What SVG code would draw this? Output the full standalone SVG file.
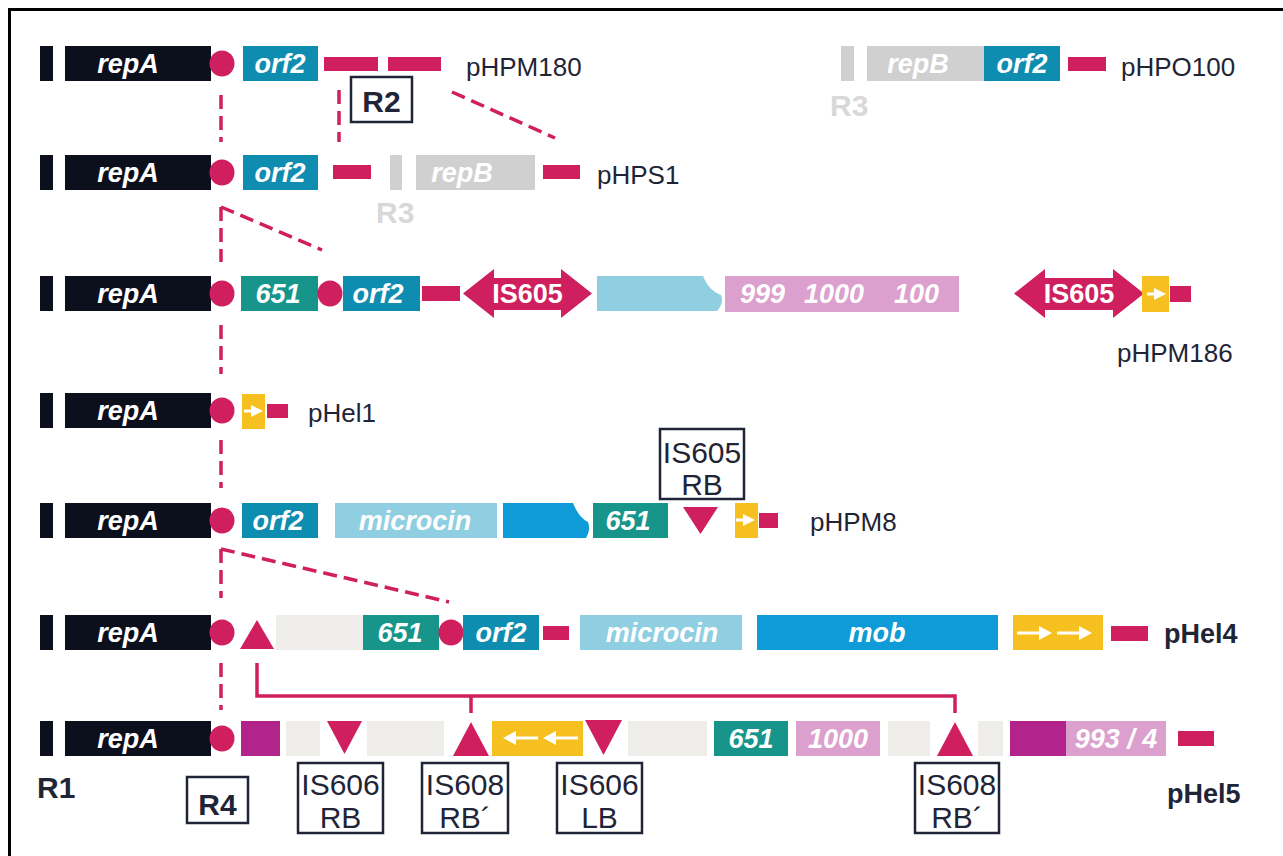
<svg xmlns="http://www.w3.org/2000/svg" xmlns:xlink="http://www.w3.org/1999/xlink" width="1283" height="856" viewBox="0 0 1283 856">
<style>
.blk{fill:#0c101d}
.teal{fill:#0f8db0}
.grn{fill:#17958a}
.red{fill:#cf1f5e}
.cyan{fill:#8fcfe1}
.blue{fill:#0f9bd7}
.pink{fill:#dba0cd}
.mag{fill:#b3238c}
.yel{fill:#f5c020}
.pale{fill:#efedea}
.grey{fill:#d0d0d0}
.gl{font-family:"Liberation Sans",Arial,sans-serif;font-style:italic;font-weight:bold;font-size:27px;fill:#fff;text-anchor:middle}
.gs{font-family:"Liberation Sans",Arial,sans-serif;font-style:italic;font-weight:bold;font-size:27px;fill:#fff}
.isl{font-family:"Liberation Sans",Arial,sans-serif;font-weight:bold;font-size:27px;fill:#fff;text-anchor:middle}
.lab{font-family:"Liberation Sans",Arial,sans-serif;font-size:26px;fill:#1f2536}
.lbb{font-family:"Liberation Sans",Arial,sans-serif;font-size:27px;font-weight:bold;fill:#1f2536}
.rl{font-family:"Liberation Sans",Arial,sans-serif;font-size:30px;font-weight:bold;fill:#1f2536}
.r3{font-family:"Liberation Sans",Arial,sans-serif;font-size:30px;font-weight:bold;fill:#d8d8d8}
.bt{font-family:"Liberation Sans",Arial,sans-serif;font-size:30px;fill:#1f2536;text-anchor:middle}
.box{fill:#fff;stroke:#1f2536;stroke-width:2.5}
.dash{fill:none;stroke:#cf1f5e;stroke-width:3.5;stroke-dasharray:14 7}
.conn{fill:none;stroke:#cf1f5e;stroke-width:3.5}
.wt{fill:#fff}
.ws{stroke:#fff;stroke-width:3;fill:none}
</style>
<defs>
<g id="wa"><line class="ws" x1="-10" y1="0" x2="-2" y2="0"/><polygon class="wt" points="-3,-6 -3,6 9,0"/></g>
<g id="ra"><line class="ws" x1="0" y1="0" x2="24" y2="0"/><polygon class="wt" points="22,-7 22,7 35,0"/></g>
<g id="la"><line class="ws" x1="11" y1="0" x2="35" y2="0"/><polygon class="wt" points="13,-7 13,7 0,0"/></g>
<ellipse id="dot" class="red" cx="0" cy="0" rx="12.5" ry="13"/>
</defs>

<path d="M9.5,870 V9.5 H1300" fill="none" stroke="#000" stroke-width="3"/>

<g id="connectors">
<path class="dash" d="M221,95 V142"/>
<path class="dash" d="M339,90 V142"/>
<path class="dash" d="M452,92 L555,138"/>
<path class="dash" d="M221,207 V262"/>
<path class="dash" d="M221,207 L322,250"/>
<path class="dash" d="M221,325 V374"/>
<path class="dash" d="M221,440 V488"/>
<path class="dash" d="M221,549 V598"/>
<path class="dash" d="M221,549 L449,602"/>
<path class="dash" d="M221,663 V710"/>
<path class="conn" d="M257,663 V696 H955 V713"/>
<path class="conn" d="M471,696 V713"/>
</g>

<g id="pHPM180">
<rect class="blk" x="40" y="46" width="13" height="35"/>
<rect class="blk" x="65" y="46" width="146" height="35"/>
<text class="gl" x="128" y="73">repA</text>
<use href="#dot" x="222" y="63.5"/>
<rect class="teal" x="243" y="46" width="75" height="35"/>
<text class="gl" x="280" y="73">orf2</text>
<rect class="red" x="324" y="57" width="54" height="14"/>
<rect class="red" x="388" y="57" width="53" height="14"/>
<text class="lab" x="466" y="76">pHPM180</text>
</g>
<g id="R2">
<rect class="box" x="351" y="77" width="61" height="45"/>
<text class="rl" x="381.5" y="112" text-anchor="middle">R2</text>
</g>

<g id="pHPO100">
<rect class="grey" x="841" y="46" width="13" height="35"/>
<rect class="grey" x="867" y="46" width="117" height="35"/>
<text class="gl" x="918" y="73">repB</text>
<rect class="teal" x="984" y="46" width="76" height="35"/>
<text class="gl" x="1022" y="73">orf2</text>
<rect class="red" x="1068" y="57" width="38" height="14"/>
<text class="lab" x="1121" y="76">pHPO100</text>
<text class="r3" x="830" y="116">R3</text>
</g>

<g id="pHPS1">
<rect class="blk" x="40" y="155" width="13" height="35"/>
<rect class="blk" x="65" y="155" width="146" height="35"/>
<text class="gl" x="128" y="182">repA</text>
<use href="#dot" x="222" y="172.5"/>
<rect class="teal" x="243" y="155" width="75" height="35"/>
<text class="gl" x="280" y="182">orf2</text>
<rect class="red" x="333" y="165" width="38" height="14"/>
<rect class="grey" x="390" y="155" width="12" height="35"/>
<rect class="grey" x="416" y="155" width="119" height="35"/>
<text class="gl" x="462" y="182">repB</text>
<rect class="red" x="543" y="165" width="37" height="14"/>
<text class="lab" x="597" y="184">pHPS1</text>
<text class="r3" x="376" y="223">R3</text>
</g>

<g id="pHPM186">
<rect class="blk" x="40" y="276" width="13" height="35"/>
<rect class="blk" x="65" y="276" width="146" height="35"/>
<text class="gl" x="128" y="303">repA</text>
<use href="#dot" x="222" y="293.5"/>
<rect class="grn" x="241" y="276" width="77" height="35"/>
<text class="gl" x="278" y="303">651</text>
<use href="#dot" x="330" y="293.5"/>
<rect class="teal" x="343" y="276" width="77" height="35"/>
<text class="gl" x="378" y="303">orf2</text>
<rect class="red" x="422" y="286" width="38" height="15"/>
<polygon class="red" points="463,293.5 494,269 494,278 561,278 561,269 592,293.5 561,318 561,310 494,310 494,318"/>
<text class="isl" x="527.5" y="303">IS605</text>
<path class="cyan" d="M597,276 H703 C707,286 713,292 721,295 C723,300 722,306 717,311 H597 Z"/>
<rect class="pink" x="725" y="276" width="234" height="36"/>
<text class="gs" x="740" y="303">999</text>
<text class="gs" x="804" y="303">1000</text>
<text class="gs" x="894" y="303">100</text>
<polygon class="red" points="1014,293.5 1045,269 1045,278 1113,278 1113,269 1144,293.5 1113,318 1113,310 1045,310 1045,318"/>
<text class="isl" x="1079" y="303">IS605</text>
<rect class="yel" x="1142" y="276" width="27" height="36"/>
<use href="#wa" x="1157" y="294"/>
<rect class="red" x="1170" y="286" width="21" height="16"/>
<text class="lab" x="1117" y="362">pHPM186</text>
</g>

<g id="pHel1">
<rect class="blk" x="40" y="393" width="13" height="35"/>
<rect class="blk" x="65" y="393" width="146" height="35"/>
<text class="gl" x="128" y="420">repA</text>
<use href="#dot" x="222" y="410.5"/>
<rect class="yel" x="242" y="394" width="23" height="35"/>
<use href="#wa" x="254" y="411"/>
<rect class="red" x="267" y="404" width="21" height="14"/>
<text class="lab" x="308" y="422">pHel1</text>
</g>

<g id="pHPM8">
<rect class="blk" x="40" y="503" width="13" height="35"/>
<rect class="blk" x="65" y="503" width="146" height="35"/>
<text class="gl" x="128" y="530">repA</text>
<use href="#dot" x="222" y="520.5"/>
<rect class="teal" x="242" y="503" width="76" height="35"/>
<text class="gl" x="278" y="530">orf2</text>
<rect class="cyan" x="335" y="503" width="162" height="35"/>
<text class="gl" x="415" y="530">microcin</text>
<path class="blue" d="M503,503 H573 C577,513 582,519 588,522 C590,528 589,533 586,538 H503 Z"/>
<rect class="grn" x="593" y="503" width="75" height="35"/>
<text class="gl" x="628" y="530">651</text>
<polygon class="red" points="683,507 718,507 700.5,534"/>
<rect class="yel" x="735" y="503" width="23" height="35"/>
<use href="#wa" x="746" y="520"/>
<rect class="red" x="759" y="513" width="19" height="15"/>
<text class="lab" x="810" y="531">pHPM8</text>
</g>
<g id="IS605RB">
<rect class="box" x="660" y="429" width="84" height="70"/>
<text class="bt" x="702" y="463">IS605</text>
<text class="bt" x="702" y="495">RB</text>
</g>

<g id="pHel4">
<rect class="blk" x="40" y="615" width="13" height="35"/>
<rect class="blk" x="65" y="615" width="146" height="35"/>
<text class="gl" x="128" y="642">repA</text>
<use href="#dot" x="222" y="632.5"/>
<polygon class="red" points="240,649 274,649 257,620"/>
<rect class="pale" x="276" y="615" width="87" height="35"/>
<rect class="grn" x="363" y="615" width="76" height="35"/>
<text class="gl" x="400" y="642">651</text>
<use href="#dot" x="451" y="632.5"/>
<rect class="teal" x="463" y="615" width="76" height="35"/>
<text class="gl" x="501" y="642">orf2</text>
<rect class="red" x="543" y="626" width="26" height="14"/>
<rect class="cyan" x="580" y="615" width="162" height="35"/>
<text class="gl" x="662" y="642">microcin</text>
<rect class="blue" x="757" y="615" width="241" height="35"/>
<text class="gl" x="877" y="642">mob</text>
<rect class="yel" x="1013" y="615" width="90" height="35"/>
<use href="#ra" x="1017" y="633"/>
<use href="#ra" x="1057" y="633"/>
<rect class="red" x="1111" y="626" width="37" height="15"/>
<text class="lbb" x="1164" y="643">pHel4</text>
</g>

<g id="pHel5">
<rect class="blk" x="40" y="721" width="13" height="35"/>
<rect class="blk" x="65" y="721" width="146" height="35"/>
<text class="gl" x="128" y="748">repA</text>
<use href="#dot" x="222" y="738.5"/>
<rect class="mag" x="241" y="721" width="39" height="35"/>
<rect class="pale" x="286" y="721" width="34" height="35"/>
<polygon class="red" points="327,721 362,721 344.5,754"/>
<rect class="pale" x="367" y="721" width="77" height="35"/>
<polygon class="red" points="453,756 489,756 471,722"/>
<rect class="yel" x="492" y="721" width="91" height="35"/>
<use href="#la" x="503" y="738"/>
<use href="#la" x="543" y="738"/>
<polygon class="red" points="585,720 622,720 603.5,755"/>
<rect class="pale" x="628" y="721" width="79" height="35"/>
<rect class="grn" x="714" y="721" width="74" height="35"/>
<text class="gl" x="751" y="748">651</text>
<rect class="pink" x="796" y="721" width="84" height="35"/>
<text class="gl" x="838" y="748">1000</text>
<rect class="pale" x="888" y="721" width="42" height="35"/>
<polygon class="red" points="937,756 973,756 955,722"/>
<rect class="pale" x="978" y="721" width="25" height="35"/>
<rect class="mag" x="1010" y="721" width="56" height="35"/>
<rect class="pink" x="1066" y="721" width="100" height="35"/>
<text class="gl" x="1116" y="748">993 / 4</text>
<rect class="red" x="1178" y="731" width="36" height="15"/>
<text class="lbb" x="1167" y="803">pHel5</text>
</g>

<g id="R1"><text class="rl" x="37" y="798">R1</text></g>
<g id="R4">
<rect class="box" x="187" y="777" width="61" height="46"/>
<text class="rl" x="217.5" y="815" text-anchor="middle">R4</text>
</g>
<g id="IS606RB">
<rect class="box" x="298" y="763" width="85" height="70"/>
<text class="bt" x="340.5" y="795">IS606</text>
<text class="bt" x="340.5" y="828">RB</text>
</g>
<g id="IS608RB1">
<rect class="box" x="422" y="763" width="86" height="70"/>
<text class="bt" x="465" y="795">IS608</text>
<text class="bt" x="465" y="828">RB´</text>
</g>
<g id="IS606LB">
<rect class="box" x="557" y="763" width="85" height="70"/>
<text class="bt" x="599.5" y="795">IS606</text>
<text class="bt" x="599.5" y="828">LB</text>
</g>
<g id="IS608RB2">
<rect class="box" x="915" y="763" width="84" height="70"/>
<text class="bt" x="957" y="795">IS608</text>
<text class="bt" x="957" y="828">RB´</text>
</g>
</svg>
